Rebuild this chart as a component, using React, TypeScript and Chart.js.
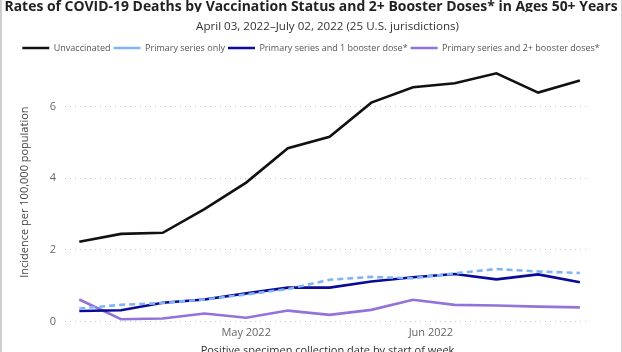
import React, { useEffect, useLayoutEffect, useRef } from "react";
import { Chart, registerables } from "chart.js";

Chart.register(...registerables);

const titleText = "Rates of COVID-19 Deaths by Vaccination Status and 2+ Booster Doses* in Ages 50+ Years";
const subtitleText = "April 03, 2022\u2013July 02, 2022 (25 U.S. jurisdictions)";
const xAxisTitle = "Positive specimen collection date by start of week";
const yAxisTitle = "Incidence per 100,000 population";

const weekDates = [
  "2022-04-03", "2022-04-10", "2022-04-17", "2022-04-24", "2022-05-01",
  "2022-05-08", "2022-05-15", "2022-05-22", "2022-05-29", "2022-06-05",
  "2022-06-12", "2022-06-19", "2022-06-26",
];
const unvaccinated = [2.23, 2.45, 2.48, 3.14, 3.88, 4.84, 5.16, 6.11, 6.54, 6.65, 6.93, 6.39, 6.73];
const primaryOnly = [0.37, 0.47, 0.52, 0.62, 0.76, 0.91, 1.17, 1.25, 1.21, 1.35, 1.47, 1.4, 1.36];
const oneBooster = [0.3, 0.32, 0.53, 0.62, 0.79, 0.95, 0.95, 1.12, 1.24, 1.33, 1.18, 1.32, 1.1];
const twoBoosters = [0.62, 0.07, 0.09, 0.23, 0.11, 0.31, 0.19, 0.33, 0.61, 0.47, 0.45, 0.42, 0.4];

const xTickDates = ["2022-05-01", "2022-06-01"];
const xTickLabels = ["May 2022", "Jun 2022"];
const yTicks = [0, 2, 4, 6];

const DAY = 86400000;
const origin = Date.parse(weekDates[0]);
const dayOf = (d: string) => (Date.parse(d) - origin) / DAY;
const pts = (vals: number[]) => vals.map((v, i) => ({ x: dayOf(weekDates[i]), y: v }));

const FONT = "'Open Sans', 'Noto Sans', sans-serif";
const TITLE_WIDTH = 613;

export default function App() {
  const ref = useRef<HTMLCanvasElement | null>(null);
  const titleRef = useRef<HTMLSpanElement | null>(null);

  useLayoutEffect(() => {
    const el = titleRef.current;
    if (el) {
      const w = el.offsetWidth;
      if (w > 0) el.style.transform = `scaleX(${TITLE_WIDTH / w})`;
    }
  }, []);

  useEffect(() => {
    document.body.style.margin = "0";
    const ctx = ref.current!.getContext("2d")!;
    const chart = new Chart(ctx, {
      type: "line",
      data: {
        datasets: [
          { label: "Unvaccinated", data: pts(unvaccinated), borderColor: "#111111", backgroundColor: "#111111", borderWidth: 2.6, pointRadius: 0 },
          { label: "Primary series only", data: pts(primaryOnly), borderColor: "#7fb5f7", backgroundColor: "#7fb5f7", borderWidth: 2.6, borderDash: [6, 4], pointRadius: 0 },
          { label: "Primary series and 1 booster dose*", data: pts(oneBooster), borderColor: "#0b0b98", backgroundColor: "#0b0b98", borderWidth: 2.6, pointRadius: 0 },
          { label: "Primary series and 2+ booster doses*", data: pts(twoBoosters), borderColor: "#9372d9", backgroundColor: "#9372d9", borderWidth: 2.6, pointRadius: 0 },
        ],
      },
      options: {
        animation: false,
        responsive: false,
        layout: { padding: { top: 40.5, left: 0, right: 0, bottom: 0 } },
        plugins: {
          legend: {
            display: true,
            position: "top",
            labels: {
              usePointStyle: true,
              pointStyle: "line",
              pointStyleWidth: 27,
              boxHeight: 9,
              padding: 3,
              color: "#555",
              font: { family: FONT, size: 9 },
            },
          },
          tooltip: { enabled: false },
        },
        scales: {
          x: {
            type: "linear",
            min: -2.4,
            max: 85.7,
            grid: { display: false, drawTicks: false },
            border: { display: false },
            afterBuildTicks: (s: any) => { s.ticks = xTickDates.map((d) => ({ value: dayOf(d) })); },
            afterFit: (s: any) => { s.height = 50.3; },
            ticks: {
              autoSkip: false,
              maxRotation: 0,
              padding: 5,
              color: "#666",
              font: { family: FONT, size: 11 },
              callback: (v: any) => { const i = xTickDates.findIndex((d) => dayOf(d) === v); return i >= 0 ? xTickLabels[i] : ""; },
            },
            title: { display: true, text: xAxisTitle, color: "#333", font: { family: FONT, size: 11 }, padding: { top: 0, bottom: 14.4 } },
          },
          y: {
            type: "linear",
            min: 0,
            max: 7.23,
            afterBuildTicks: (s: any) => { s.ticks = yTicks.map((v) => ({ value: v })); },
            afterFit: (s: any) => { s.width = 65; },
            grid: { color: "#c8c8c8", lineWidth: 1, drawTicks: false },
            border: { display: false, dash: [1, 4] },
            ticks: { padding: 9, color: "#666", font: { family: FONT, size: 11 } },
            title: { display: true, text: yAxisTitle, color: "#444", font: { family: FONT, size: 11 }, padding: { top: 18.4, bottom: 0 } },
          },
          y2: {
            type: "linear",
            position: "right",
            display: true,
            grid: { display: false },
            border: { display: false },
            ticks: { display: false },
            afterFit: (s: any) => { s.width = 32; },
          },
        },
      },
    });
    return () => chart.destroy();
  }, []);

  return (
    <div style={{ position: "relative", width: 622, height: 352, overflow: "hidden", background: "#fff" }}>
      <canvas ref={ref} width={622} height={372} style={{ position: "absolute", left: 0, top: 0, width: 622, height: 372 }} />
      <div style={{ position: "absolute", left: 0, top: 0, width: 622, height: 12, overflow: "hidden" }}>
        <div style={{ position: "relative", top: -3, width: 622, textAlign: "center", whiteSpace: "nowrap" }}>
          <span ref={titleRef} style={{ display: "inline-block", transformOrigin: "center", fontFamily: FONT, fontWeight: 700, fontSize: 15, lineHeight: "16px", color: "#222", marginLeft: -1000, marginRight: -1000 }}>{titleText}</span>
        </div>
      </div>
      <div style={{ position: "absolute", left: 65, top: 19, width: 525, whiteSpace: "nowrap", textAlign: "center", fontFamily: FONT, fontSize: 11.6, lineHeight: "14px", color: "#333" }}>{subtitleText}</div>
      <div style={{ position: "absolute", left: 0, top: 0, width: 619, height: 352, borderLeft: "2px solid #cfcfcf", borderRight: "1px solid #cfcfcf", pointerEvents: "none" }} />
    </div>
  );
}
